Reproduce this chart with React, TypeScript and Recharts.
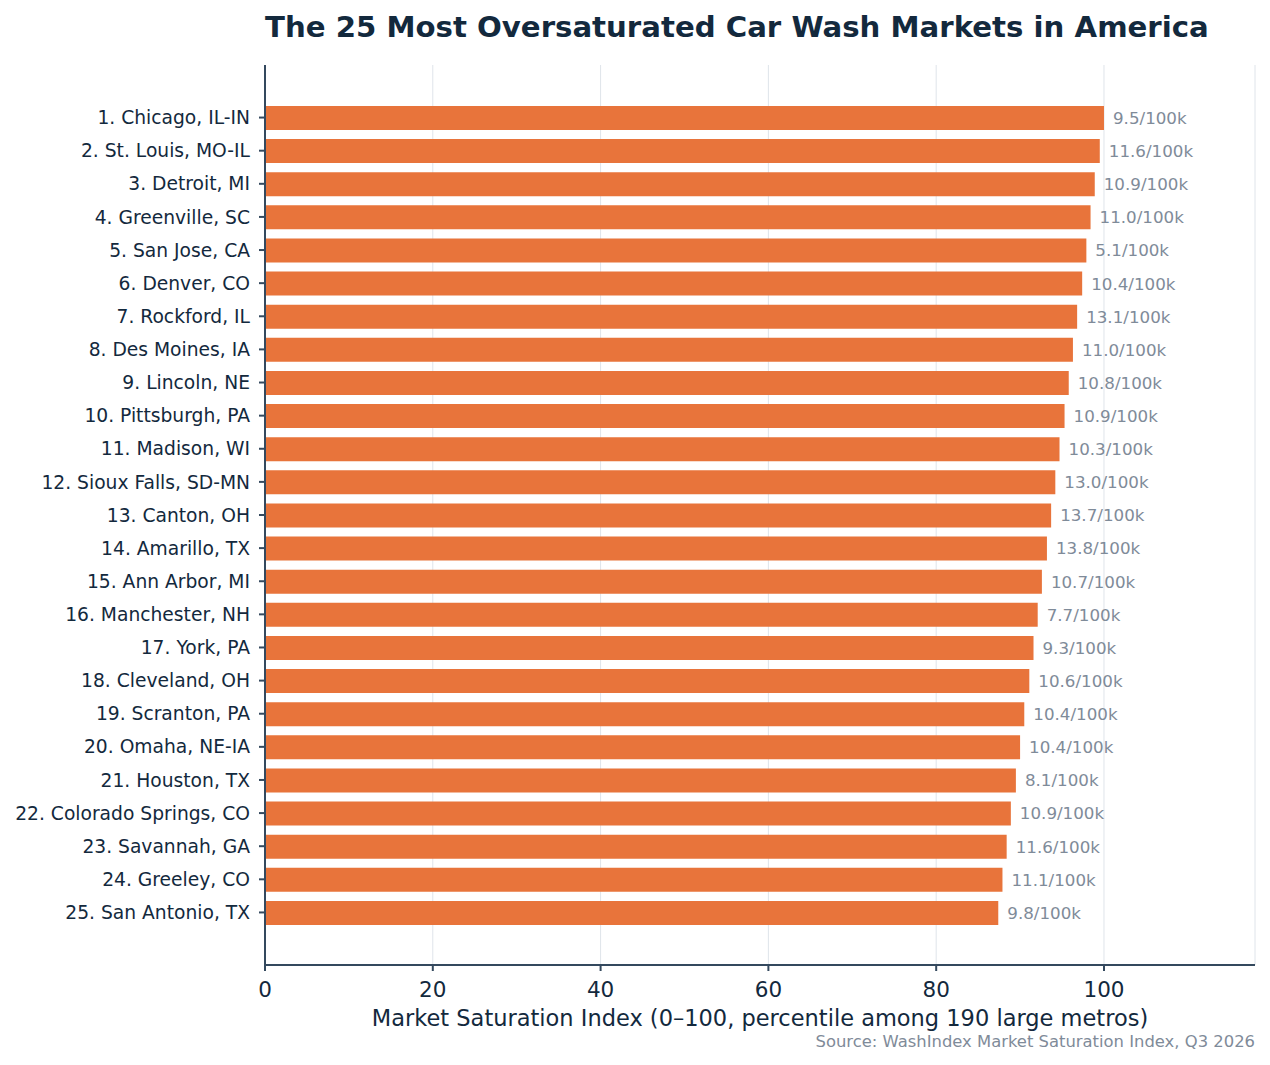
import React from 'react';
import { BarChart, Bar, XAxis, YAxis, CartesianGrid, LabelList } from 'recharts';

const metros = [
  '1. Chicago, IL-IN',
  '2. St. Louis, MO-IL',
  '3. Detroit, MI',
  '4. Greenville, SC',
  '5. San Jose, CA',
  '6. Denver, CO',
  '7. Rockford, IL',
  '8. Des Moines, IA',
  '9. Lincoln, NE',
  '10. Pittsburgh, PA',
  '11. Madison, WI',
  '12. Sioux Falls, SD-MN',
  '13. Canton, OH',
  '14. Amarillo, TX',
  '15. Ann Arbor, MI',
  '16. Manchester, NH',
  '17. York, PA',
  '18. Cleveland, OH',
  '19. Scranton, PA',
  '20. Omaha, NE-IA',
  '21. Houston, TX',
  '22. Colorado Springs, CO',
  '23. Savannah, GA',
  '24. Greeley, CO',
  '25. San Antonio, TX',
];

const saturationIndex = [
  100, 99.5, 98.9, 98.4, 97.9, 97.4, 96.8, 96.3, 95.8, 95.3, 94.7, 94.2, 93.7,
  93.2, 92.6, 92.1, 91.6, 91.1, 90.5, 90.0, 89.5, 88.9, 88.4, 87.9, 87.4,
];

const washesPer100k = [
  9.5, 11.6, 10.9, 11.0, 5.1, 10.4, 13.1, 11.0, 10.8, 10.9, 10.3, 13.0, 13.7,
  13.8, 10.7, 7.7, 9.3, 10.6, 10.4, 10.4, 8.1, 10.9, 11.6, 11.1, 9.8,
];

const xTicks = [0, 20, 40, 60, 80, 100];

const rows = metros.map((metro, i) => ({
  metro,
  index: saturationIndex[i],
  rate: washesPer100k[i],
}));

const NAVY = '#13293d';
const AXIS = '#34495e';
const ORANGE = '#e8743b';
const GRAY = '#7f8b99';
const FONT = '"DejaVu Sans", sans-serif';

const App: React.FC = () => {
  return (
    <div style={{ position: 'absolute', left: 0, top: 0, width: 1270, height: 1065, background: '#fff', fontFamily: FONT }}>
      <div style={{ position: 'absolute', left: 265, top: 10, fontSize: 29.2, fontWeight: 'bold', color: NAVY, whiteSpace: 'nowrap' }}>
        The 25 Most Oversaturated Car Wash Markets in America
      </div>
      <BarChart
        width={1270}
        height={1065}
        data={rows}
        layout="vertical"
        margin={{ top: 65, right: 15, bottom: 0, left: 0 }}
        barSize={24}
      >
        <CartesianGrid horizontal={false} stroke="#dfe4ea" strokeWidth={1} />
        <XAxis
          type="number"
          dataKey="index"
          domain={[0, 118]}
          ticks={xTicks}
          allowDataOverflow
          height={100}
          stroke={AXIS}
          strokeWidth={2}
          tickSize={6}
          tickMargin={11}
          tick={{ fontSize: 21.5, fill: NAVY, fontFamily: FONT }}
        />
        <YAxis
          type="category"
          dataKey="metro"
          width={265}
          padding={{ top: 36, bottom: 36 }}
          stroke={AXIS}
          strokeWidth={2}
          tickSize={6}
          tickMargin={9}
          interval={0}
          tick={{ fontSize: 18.7, fill: NAVY, fontFamily: FONT }}
        />
        <Bar dataKey="index" fill={ORANGE} isAnimationActive={false}>
          <LabelList
            dataKey="rate"
            position="right"
            offset={9}
            formatter={(v: any) => `${Number(v).toFixed(1)}/100k`}
            style={{ fontSize: 16.7, fill: GRAY, fontFamily: FONT }}
          />
        </Bar>
      </BarChart>
      <div style={{ position: 'absolute', left: 265, width: 990, top: 1005, textAlign: 'center', fontSize: 22.5, color: NAVY, whiteSpace: 'nowrap' }}>
        Market Saturation Index (0–100, percentile among 190 large metros)
      </div>
      <div style={{ position: 'absolute', right: 15, top: 1032, fontSize: 16.4, color: GRAY, whiteSpace: 'nowrap' }}>
        Source: WashIndex Market Saturation Index, Q3 2026
      </div>
    </div>
  );
};

export default App;
